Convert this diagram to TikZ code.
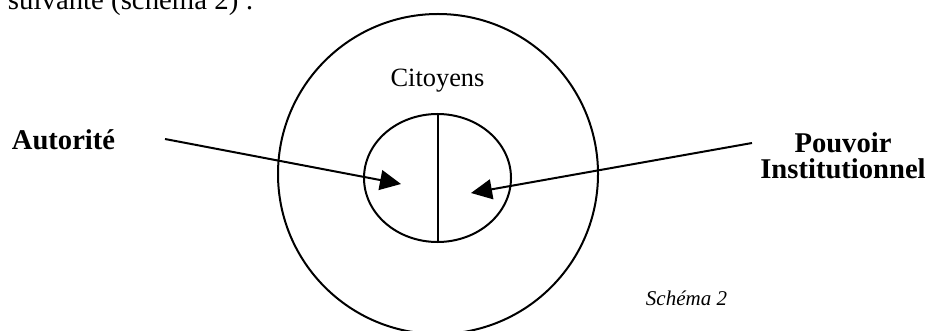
\documentclass[tikz,border=0pt]{standalone}
\usepackage{fontspec}
\setmainfont{Liberation Serif}
\usetikzlibrary{arrows.meta}
\begin{document}
\begin{tikzpicture}[>={Triangle[length=10.5pt,width=10pt]}, x=.5pt, y=-.5pt, line width=1pt]
\useasboundingbox (0,0) rectangle (929,331);
\node[anchor=base west, inner sep=0, font=\fontsize{14.4}{17}\selectfont] (intro) at (7,10) {suivante (schéma 2) :};
% cercles
\draw (438,174) circle [x radius=160, y radius=160];
\draw (437.5,178) ellipse [x radius=73.5, y radius=64];
\draw (437.5,114)--(437.5,242);
\node[anchor=base, inner sep=0, font=\fontsize{13.2}{15}\selectfont] (cit) at (437.5,87) {Citoyens};
% etiquettes
\node[anchor=base, inner sep=0, font=\fontsize{14.3}{17}\selectfont\bfseries] (aut) at (63.5,149) {Autorité};
\node[anchor=base, inner sep=0, align=center, font=\fontsize{14.3}{13}\selectfont\bfseries] (pouv) at (843,178) {Pouvoir\\Institutionnel};
\node[anchor=base east, inner sep=0, font=\fontsize{10.5}{12}\selectfont\itshape] (sch) at (728,305) {Schéma 2};
% fleches
\coordinate (autA) at (165,139);
\coordinate (autB) at (401,184);
\coordinate (pouvA) at (752,143);
\coordinate (pouvB) at (471,193);
\draw[->](autA)--(autB);
\draw[->](pouvA)--(pouvB);
\end{tikzpicture}
\end{document}
